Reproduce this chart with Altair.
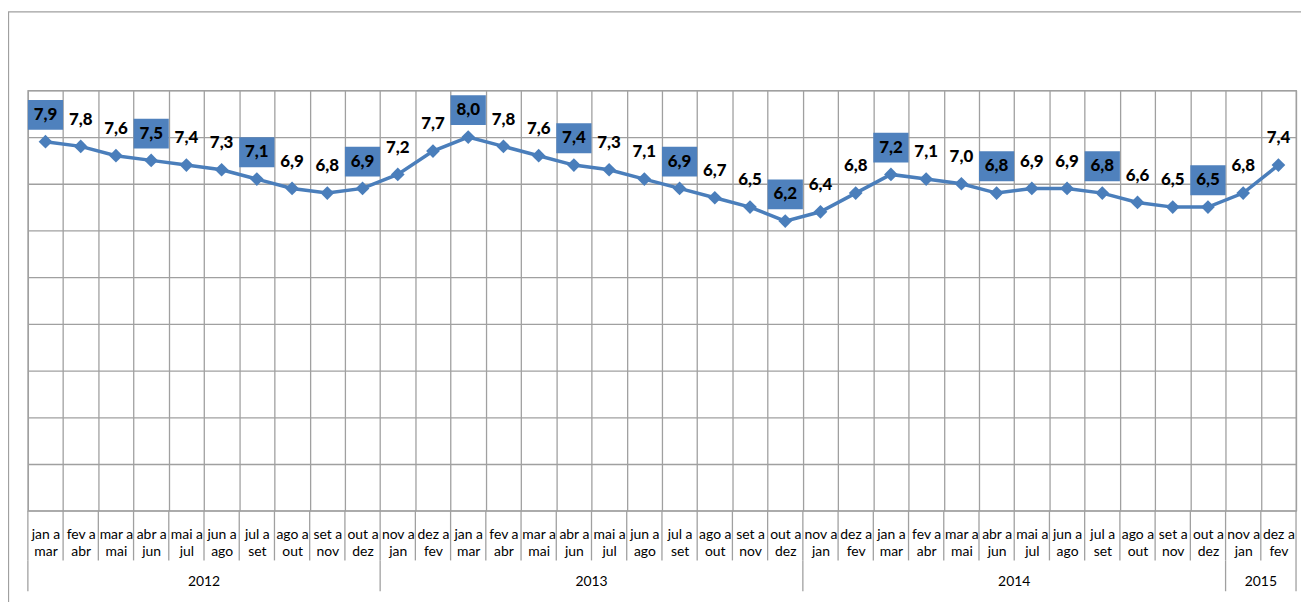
import altair as alt
import pandas as pd

# ---- data ----
periods = [
    "jan a|mar", "fev a|abr", "mar a|mai", "abr a|jun", "mai a|jul", "jun a|ago",
    "jul a|set", "ago a|out", "set a|nov", "out a|dez",
    "nov a|jan", "dez a|fev", "jan a|mar", "fev a|abr", "mar a|mai", "abr a|jun",
    "mai a|jul", "jun a|ago", "jul a|set", "ago a|out", "set a|nov", "out a|dez",
    "nov a|jan", "dez a|fev", "jan a|mar", "fev a|abr", "mar a|mai", "abr a|jun",
    "mai a|jul", "jun a|ago", "jul a|set", "ago a|out", "set a|nov", "out a|dez",
    "nov a|jan", "dez a|fev",
]
values = [
    7.9, 7.8, 7.6, 7.5, 7.4, 7.3, 7.1, 6.9, 6.8, 6.9,
    7.2, 7.7, 8.0, 7.8, 7.6, 7.4, 7.3, 7.1, 6.9, 6.7, 6.5, 6.2,
    6.4, 6.8, 7.2, 7.1, 7.0, 6.8, 6.9, 6.9, 6.8, 6.6, 6.5, 6.5,
    6.8, 7.4,
]
years = ["2012", "2013", "2014", "2015"]
year_counts = [10, 12, 12, 2]
quarter_ends = ["mar", "jun", "set", "dez"]

# ---- styling ----
W, H = 1276, 423
BLUE = "#4F81BD"
LINE = "#4A7EBB"
GRID = "#A0A0A0"
FONT = "Lato"

cats = [f"{i:02d}|{p}" for i, p in enumerate(periods)]
df = pd.DataFrame({
    "cat": cats,
    "value": values,
    "boxed": [p.split("|")[1] in quarter_ends for p in periods],
})

starts = []
s = 0
for c in year_counts:
    starts.append(s)
    s += c
year_df = pd.DataFrame({
    "cat": [cats[st + c // 2] for st, c in zip(starts, year_counts)],
    "year": years,
})
sep_df = pd.DataFrame({"cat": [cats[st] for st in starts]})
last_df = pd.DataFrame({"cat": [cats[-1]]})

xscale = alt.Scale(type="band", paddingInner=0, paddingOuter=0)
xaxis = alt.Axis(
    title=None,
    labelExpr="[split(datum.value,'|')[1], split(datum.value,'|')[2]]",
    tickBand="extent",
    grid=True, gridColor=GRID, gridWidth=1.3,
    ticks=False, domain=False,
    labelAngle=0, labelFont=FONT, labelFontSize=14, labelColor="black",
    labelLineHeight=17, labelPadding=17, labelOverlap=False, labelBound=False,
)
yscale = alt.Scale(domain=[0, 9], nice=False, zero=True)
yaxis = alt.Axis(
    title=None, values=list(range(10)), labels=False, ticks=False,
    domain=False, grid=True, gridColor=GRID, gridWidth=1.3,
)


def X(bp=None):
    if bp is None:
        return alt.X("cat:O", scale=xscale, axis=xaxis)
    return alt.X("cat:O", scale=xscale, axis=xaxis, bandPosition=bp)


Y = alt.Y("value:Q", scale=yscale, axis=yaxis)

base = alt.Chart(df)

border = alt.Chart(pd.DataFrame({"k": [0]})).mark_rect(
    fillOpacity=0, stroke=GRID, strokeWidth=1.3
).encode(
    x=alt.value(-19.5), x2=alt.value(W + 40),
    y=alt.value(-79), y2=alt.value(H + 300),
)

separators = base.mark_rule(color=GRID, strokeWidth=1.3).encode(
    x=X(0), y=alt.value(H), y2=alt.value(H + 50)
)
sep_last = alt.Chart(last_df).mark_rule(color=GRID, strokeWidth=1.3).encode(
    x=X(1), y=alt.value(H), y2=alt.value(H + 81)
)
year_seps = alt.Chart(sep_df).mark_rule(color=GRID, strokeWidth=1.3).encode(
    x=X(0), y=alt.value(H + 50), y2=alt.value(H + 81)
)
year_text = alt.Chart(year_df).mark_text(
    font=FONT, fontSize=14, color="black", baseline="middle"
).encode(x=X(0), y=alt.value(H + 72), text="year:N")

boxes = base.transform_filter("datum.boxed").mark_rect(
    color=BLUE, yOffset=-42, y2Offset=-12
).encode(x=X(), y=Y, y2=alt.Y2("value:Q"))

line = base.mark_line(color=LINE, strokeWidth=3.5).encode(x=X(), y=Y)
points = base.mark_point(
    shape="diamond", filled=True, size=190, color=LINE, opacity=1
).encode(x=X(), y=Y)
labels = base.transform_calculate(
    lbl="replace(format(datum.value, '.1f'), '.', ',')"
).mark_text(
    dy=-27, font=FONT, fontSize=17, fontWeight=900, color="black", baseline="middle"
).encode(x=X(), y=Y, text="lbl:N")

chart = alt.layer(
    border, separators, sep_last, year_seps, year_text, boxes, line, points, labels
).properties(
    width=W, height=H,
    autosize=alt.AutoSizeParams(type="none"),
    padding={"left": 20, "top": 81, "right": 5, "bottom": 90},
).configure_view(stroke=GRID, strokeWidth=1.3)

chart.save("out.html", embed_options={"renderer": "svg", "actions": False})
